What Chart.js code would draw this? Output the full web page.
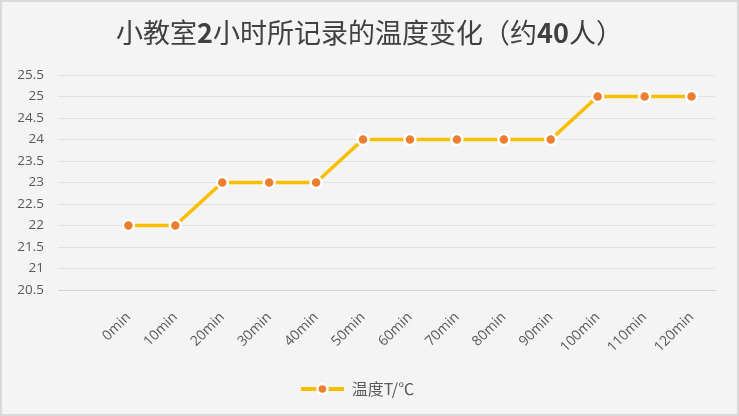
<!DOCTYPE html>
<html lang="zh">
<head>
<meta charset="UTF-8">
<title>小教室温度变化</title>
<style>
  html, body { margin: 0; padding: 0; background: #f4f4f4; }
  #wrap { width: 739px; height: 416px; }
</style>
</head>
<body>
<div id="wrap"><canvas id="grafico"></canvas></div>
<script src="https://cdn.jsdelivr.net/npm/chart.js"></script>
<script>
// the first category is empty in the source sheet, which leaves a gap before 0min
const categorias = ['', '0min', '10min', '20min', '30min', '40min', '50min', '60min', '70min', '80min', '90min', '100min', '110min', '120min']
const temperatura = [null, 22, 22, 23, 23, 23, 24, 24, 24, 24, 24, 25, 25, 25]
const ticksY = [20.5, 21, 21.5, 22, 22.5, 23, 23.5, 24, 24.5, 25, 25.5]
const nomeSerie = '温度T/℃'
const titulo = '小教室2小时所记录的温度变化（约40人）'

const amarelo = '#F9BE00'
const laranja = '#ED7D31'

// legend marker: line with a dot, like the spreadsheet legend
const marcador = document.createElement('canvas')
marcador.width = 43
marcador.height = 16
const m = marcador.getContext('2d')
m.strokeStyle = amarelo
m.lineWidth = 4
m.beginPath(); m.moveTo(0, 8); m.lineTo(43, 8); m.stroke()
m.fillStyle = laranja
m.strokeStyle = '#ffffff'
m.lineWidth = 2.5
m.beginPath(); m.arc(21.5, 8, 5, 0, Math.PI * 2); m.fill(); m.stroke()

const fundo = {
  id: 'fundo',
  beforeDraw(chart) {
    const c = chart.ctx
    c.save()
    c.fillStyle = '#f4f4f4'
    c.fillRect(0, 0, chart.width, chart.height)
    c.strokeStyle = '#d9d9d9'
    c.lineWidth = 2
    c.strokeRect(1, 1, chart.width - 2, chart.height - 2)
    c.restore()
  }
}

// title centred on the whole canvas, digits in bold like the original
const tituloPlugin = {
  id: 'tituloPlugin',
  afterDraw(chart) {
    const c = chart.ctx
    const pedacos = titulo.split(/(\d+)/).filter(p => p)
    const fonte = p => (/\d/.test(p) ? 'bold ' : '') + '27px "Noto Sans CJK SC", sans-serif'
    c.save()
    c.fillStyle = '#404040'
    c.textBaseline = 'middle'
    let total = 0
    pedacos.forEach(p => { c.font = fonte(p); total += c.measureText(p).width })
    let x = chart.width / 2 - total / 2
    pedacos.forEach(p => {
      c.font = fonte(p)
      c.fillText(p, x, 33)
      x += c.measureText(p).width
    })
    c.restore()
  }
}

const ctx = document.getElementById('grafico')

new Chart(ctx, {
  type: 'line',
  data: {
    labels: categorias,
    datasets: [{
      label: nomeSerie,
      data: temperatura,
      borderColor: amarelo,
      borderWidth: 3.5,
      pointBackgroundColor: laranja,
      pointBorderColor: '#ffffff',
      pointBorderWidth: 2.5,
      pointRadius: 5.5,
      tension: 0
    }]
  },
  options: {
    responsive: true,
    maintainAspectRatio: false,
    animation: false,
    layout: { padding: { left: 0, right: 24, top: 75, bottom: 9 } },
    plugins: {
      title: { display: false },
      legend: {
        position: 'bottom',
        labels: {
          usePointStyle: true,
          pointStyleWidth: 43,
          color: '#595959',
          padding: 10,
          font: { family: '"Noto Sans CJK SC", sans-serif', size: 16 },
          generateLabels: () => [{
            text: nomeSerie,
            pointStyle: marcador,
            fillStyle: laranja,
            strokeStyle: amarelo,
            lineWidth: 0,
            fontColor: '#595959',
            datasetIndex: 0
          }]
        }
      },
      tooltip: { enabled: false }
    },
    scales: {
      x: {
        offset: true,
        grid: { display: false },
        border: { color: '#d3d3d3' },
        ticks: {
          minRotation: 45,
          maxRotation: 45,
          color: '#595959',
          padding: 11,
          font: { family: '"Open Sans", sans-serif', size: 14 }
        },
        afterFit: s => { s.height = 81 }
      },
      y: {
        min: 20.5,
        max: 25.5,
        afterBuildTicks: s => { s.ticks = ticksY.map(v => ({ value: v })) },
        grid: {
          drawTicks: false,
          color: c => c.tick && c.tick.value === 20.5 ? '#d3d3d3' : '#e1e1e1'
        },
        border: { display: false },
        ticks: {
          color: '#595959',
          padding: 14,
          font: { family: '"Open Sans", sans-serif', size: 13.5 },
          callback: v => String(v)
        },
        afterFit: s => { s.width = 58 }
      }
    }
  },
  plugins: [fundo, tituloPlugin]
})
</script>
</body>
</html>
